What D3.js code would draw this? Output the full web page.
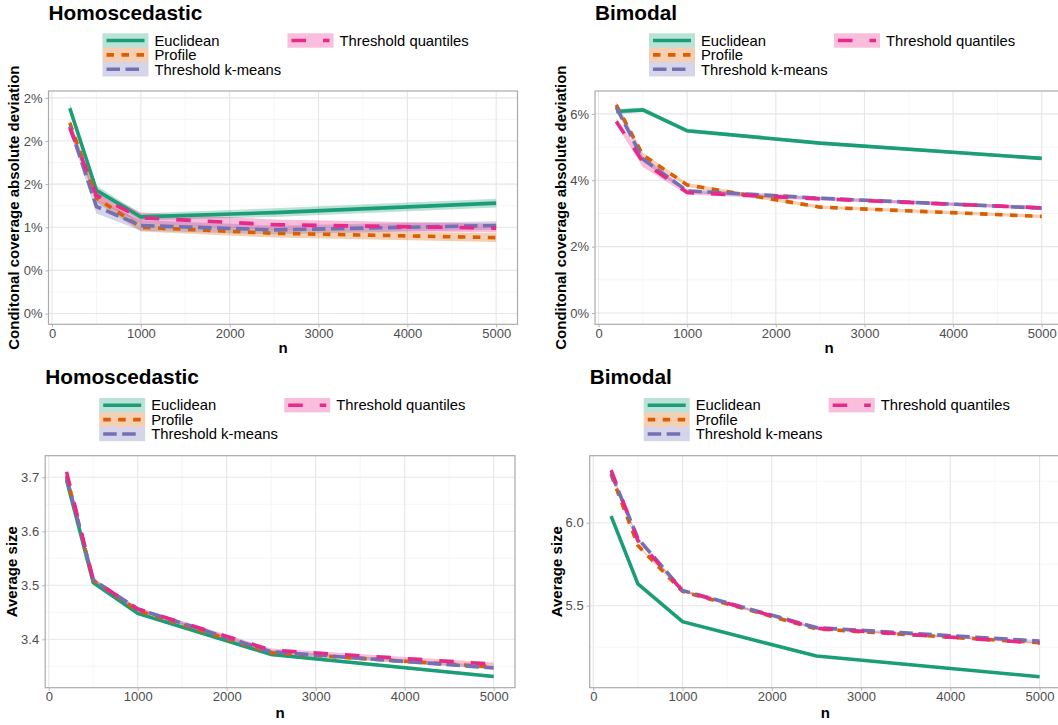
<!DOCTYPE html>
<html lang="en">
<head>
<meta charset="utf-8">
<title>Coverage and size by n</title>
<style>
  body { margin: 0; background: #fff; }
  svg text { font-family: "Liberation Sans", Arial, sans-serif; }
  .tick text { fill: #4d4d4d; font-size: 13px; }
  .tick line { stroke: #b3b3b3; }
</style>
<script src="https://cdnjs.cloudflare.com/ajax/libs/d3/7.8.5/d3.min.js"></script>
</head>
<body>
<script>
// sample sizes and methods
var nValues = [200, 500, 1000, 2500, 5000];
var methodNames = ["Euclidean", "Profile", "Threshold k-means", "Threshold quantiles"];
var xTicks = [0, 1000, 2000, 3000, 4000, 5000];
var xMinorTicks = [500, 1500, 2500, 3500, 4500];

// conditional coverage absolute deviation, homoscedastic
var homoDevEuclidean = [0.0238, 0.0143, 0.0112, 0.0117, 0.0128];
var homoDevProfile   = [0.0221, 0.0134, 0.0100, 0.0093, 0.0088];
var homoDevKmeans    = [0.0217, 0.0124, 0.0102, 0.0097, 0.0102];
var homoDevQuantiles = [0.0215, 0.0137, 0.0111, 0.0103, 0.0099];
var homoDevEuclideanSe = [0.0006, 0.0005, 0.0004, 0.0005, 0.0005];
var homoDevProfileSe   = [0.0005, 0.0005, 0.0005, 0.0005, 0.0005];
var homoDevKmeansSe    = [0.0006, 0.0008, 0.0006, 0.0005, 0.0005];
var homoDevQuantilesSe = [0.0005, 0.0006, 0.0006, 0.0006, 0.0005];
var homoDevTicks = [0, 0.005, 0.01, 0.015, 0.02, 0.025];
var homoDevTickLabels = ["0%", "0%", "1%", "2%", "2%", "2%"];

// conditional coverage absolute deviation, bimodal
var bimoDevEuclidean = [0.0607, 0.0612, 0.0549, 0.0512, 0.0466];
var bimoDevProfile   = [0.0627, 0.0476, 0.0386, 0.0319, 0.0291];
var bimoDevKmeans    = [0.0620, 0.0464, 0.0368, 0.0346, 0.0316];
var bimoDevQuantiles = [0.0577, 0.0456, 0.0363, 0.0344, 0.0317];
var bimoDevEuclideanSe = [0.0008, 0.0007, 0.0006, 0.0005, 0.0005];
var bimoDevProfileSe   = [0.0009, 0.0008, 0.0006, 0.0005, 0.0005];
var bimoDevKmeansSe    = [0.0009, 0.0008, 0.0006, 0.0005, 0.0005];
var bimoDevQuantilesSe = [0.0010, 0.0016, 0.0006, 0.0005, 0.0005];
var bimoDevTicks = [0, 0.02, 0.04, 0.06];
var bimoDevTickLabels = ["0%", "2%", "4%", "6%"];

// average size, homoscedastic
var homoSizeEuclidean = [3.695, 3.505, 3.448, 3.372, 3.331];
var homoSizeProfile   = [3.703, 3.509, 3.453, 3.375, 3.349];
var homoSizeKmeans    = [3.700, 3.510, 3.456, 3.377, 3.347];
var homoSizeQuantiles = [3.710, 3.510, 3.456, 3.380, 3.354];
var homoSizeEuclideanSe = [0.004, 0.003, 0.003, 0.003, 0.003];
var homoSizeProfileSe   = [0.004, 0.003, 0.003, 0.003, 0.003];
var homoSizeKmeansSe    = [0.004, 0.003, 0.003, 0.003, 0.003];
var homoSizeQuantilesSe = [0.004, 0.003, 0.003, 0.003, 0.003];
var homoSizeTicks = [3.4, 3.5, 3.6, 3.7];
var homoSizeTickLabels = ["3.4", "3.5", "3.6", "3.7"];

// average size, bimodal
var bimoSizeEuclidean = [6.040, 5.631, 5.404, 5.197, 5.072];
var bimoSizeProfile   = [6.290, 5.862, 5.586, 5.360, 5.277];
var bimoSizeKmeans    = [6.298, 5.906, 5.592, 5.368, 5.287];
var bimoSizeQuantiles = [6.317, 5.893, 5.590, 5.364, 5.274];
var bimoSizeEuclideanSe = [0.008, 0.007, 0.006, 0.005, 0.005];
var bimoSizeProfileSe   = [0.008, 0.007, 0.006, 0.005, 0.005];
var bimoSizeKmeansSe    = [0.008, 0.007, 0.006, 0.005, 0.005];
var bimoSizeQuantilesSe = [0.008, 0.007, 0.006, 0.005, 0.005];
var bimoSizeTicks = [5.5, 6.0];
var bimoSizeTickLabels = ["5.5", "6.0"];

// styling
var colors = ["#1b9e77", "#d95f02", "#7570b3", "#e7298a"];
var dashes = [null, "7.5,7.5", "13.5,5.5", "14.5,17"];
var lineWidth = 3.6;

var panels = [
  { title: "Homoscedastic", yTitle: "Conditonal coverage absolute deviation",
    series: [homoDevEuclidean, homoDevProfile, homoDevKmeans, homoDevQuantiles],
    se: [homoDevEuclideanSe, homoDevProfileSe, homoDevKmeansSe, homoDevQuantilesSe],
    ticks: homoDevTicks, tickLabels: homoDevTickLabels,
    box: { left: 48.5, right: 517.5, top: 91, bottom: 324.3 },
    yDomain: [-0.00125, 0.0258], yTitleX: 19, titleY: 20, nY: 353 },
  { title: "Bimodal", yTitle: "Conditonal coverage absolute deviation",
    series: [bimoDevEuclidean, bimoDevProfile, bimoDevKmeans, bimoDevQuantiles],
    se: [bimoDevEuclideanSe, bimoDevProfileSe, bimoDevKmeansSe, bimoDevQuantilesSe],
    ticks: bimoDevTicks, tickLabels: bimoDevTickLabels,
    box: { left: 595, right: 1063, top: 91, bottom: 324.3 },
    yDomain: [-0.0034, 0.0669], yTitleX: 565.5, titleY: 20, nY: 353 },
  { title: "Homoscedastic", yTitle: "Average size",
    series: [homoSizeEuclidean, homoSizeProfile, homoSizeKmeans, homoSizeQuantiles],
    se: [homoSizeEuclideanSe, homoSizeProfileSe, homoSizeKmeansSe, homoSizeQuantilesSe],
    ticks: homoSizeTicks, tickLabels: homoSizeTickLabels,
    box: { left: 45.2, right: 515, top: 455.7, bottom: 687.7 },
    yDomain: [3.3104, 3.74], yTitleX: 17, titleY: 384, nY: 718 },
  { title: "Bimodal", yTitle: "Average size",
    series: [bimoSizeEuclidean, bimoSizeProfile, bimoSizeKmeans, bimoSizeQuantiles],
    se: [bimoSizeEuclideanSe, bimoSizeProfileSe, bimoSizeKmeansSe, bimoSizeQuantilesSe],
    ticks: bimoSizeTicks, tickLabels: bimoSizeTickLabels,
    box: { left: 589.7, right: 1061, top: 455.7, bottom: 687.7 },
    yDomain: [5.006, 6.4036], yTitleX: 561.5, titleY: 384, nY: 718 }
];

var svg = d3.select("body").append("svg")
  .attr("width", 1058)
  .attr("height", 725);

svg.append("rect").attr("width", 1058).attr("height", 725).attr("fill", "#fff");

panels.forEach(function(p, pi) {
  var b = p.box;
  var x = d3.scaleLinear().domain([-40, 5240]).range([b.left, b.right]);
  var y = d3.scaleLinear().domain(p.yDomain).range([b.bottom, b.top]);
  var g = svg.append("g");

  // minor y ticks halfway between majors
  var step = p.ticks[1] - p.ticks[0];
  var yMinor = [];
  for (var v = p.ticks[0] - step / 2; v <= p.yDomain[1]; v += step) {
    if (v >= p.yDomain[0]) yMinor.push(v);
  }

  g.selectAll(".xminor").data(xMinorTicks).enter().append("line")
    .attr("x1", function(d) { return x(d); }).attr("x2", function(d) { return x(d); })
    .attr("y1", b.top).attr("y2", b.bottom)
    .attr("stroke", "#f2f2f2").attr("stroke-width", 0.7);
  g.selectAll(".yminor").data(yMinor).enter().append("line")
    .attr("x1", b.left).attr("x2", b.right)
    .attr("y1", function(d) { return y(d); }).attr("y2", function(d) { return y(d); })
    .attr("stroke", "#f2f2f2").attr("stroke-width", 0.7);
  g.selectAll(".xmajor").data(xTicks).enter().append("line")
    .attr("x1", function(d) { return x(d); }).attr("x2", function(d) { return x(d); })
    .attr("y1", b.top).attr("y2", b.bottom)
    .attr("stroke", "#e6e6e6").attr("stroke-width", 1.1);
  g.selectAll(".ymajor").data(p.ticks).enter().append("line")
    .attr("x1", b.left).attr("x2", b.right)
    .attr("y1", function(d) { return y(d); }).attr("y2", function(d) { return y(d); })
    .attr("stroke", "#e6e6e6").attr("stroke-width", 1.1);

  var clipId = "clip" + pi;
  svg.append("clipPath").attr("id", clipId).append("rect")
    .attr("x", b.left).attr("y", b.top)
    .attr("width", b.right - b.left).attr("height", b.bottom - b.top);
  var plot = g.append("g").attr("clip-path", "url(#" + clipId + ")");

  var area = d3.area()
    .x(function(d) { return x(d.n); })
    .y0(function(d) { return y(d.v - d.se); })
    .y1(function(d) { return y(d.v + d.se); });
  var line = d3.line()
    .x(function(d) { return x(d.n); })
    .y(function(d) { return y(d.v); });

  var rows = p.series.map(function(s, k) {
    return nValues.map(function(n, i) { return { n: n, v: s[i], se: p.se[k][i] }; });
  });

  // ribbons first, then lines
  rows.forEach(function(r, k) {
    plot.append("path").attr("d", area(r))
      .attr("fill", colors[k]).attr("fill-opacity", 0.3);
  });
  rows.forEach(function(r, k) {
    plot.append("path").attr("d", line(r))
      .attr("fill", "none")
      .attr("stroke", colors[k])
      .attr("stroke-width", lineWidth)
      .attr("stroke-dasharray", dashes[k]);
  });

  g.append("rect")
    .attr("x", b.left).attr("y", b.top)
    .attr("width", b.right - b.left).attr("height", b.bottom - b.top)
    .attr("fill", "none").attr("stroke", "#ababab").attr("stroke-width", 1.2);

  // axes
  var xAxis = g.append("g")
    .attr("transform", "translate(0," + b.bottom + ")")
    .call(d3.axisBottom(x).tickValues(xTicks).tickFormat(d3.format("d"))
      .tickSize(3).tickPadding(1.5));
  xAxis.select(".domain").remove();

  var yAxis = g.append("g")
    .attr("transform", "translate(" + b.left + ",0)")
    .call(d3.axisLeft(y).tickValues(p.ticks)
      .tickFormat(function(d, i) { return p.tickLabels[i]; })
      .tickSize(3).tickPadding(3));
  yAxis.select(".domain").remove();

  g.selectAll(".tick text").style("font-size", "13px").attr("fill", "#4d4d4d");

  // titles
  g.append("text")
    .attr("x", b.left).attr("y", p.titleY)
    .attr("font-size", "20.8px").attr("font-weight", "bold")
    .text(p.title);

  g.append("text")
    .attr("x", (b.left + b.right) / 2)
    .attr("y", p.nY)
    .attr("text-anchor", "middle")
    .attr("font-size", "15px").attr("font-weight", "bold")
    .text("n");

  g.append("text")
    .attr("transform", "translate(" + p.yTitleX + "," + ((b.top + b.bottom) / 2) + ") rotate(-90)")
    .attr("text-anchor", "middle")
    .attr("font-size", "15px").attr("font-weight", "bold")
    .text(p.yTitle);

  // legend: three rows in first column, remaining in second
  var keyW = 46, keyH = 14.4;
  var lx = b.left + 54;
  var ly = b.top - 50.5 - keyH / 2;
  var legend = g.append("g").attr("transform", "translate(" + lx + "," + ly + ")");
  methodNames.forEach(function(name, k) {
    var col = Math.floor(k / 3), row = k % 3;
    var item = legend.append("g")
      .attr("transform", "translate(" + (col * 185) + "," + (row * keyH) + ")");
    item.append("rect")
      .attr("width", keyW).attr("height", keyH)
      .attr("fill", colors[k]).attr("fill-opacity", 0.3);
    item.append("line")
      .attr("x1", 4).attr("x2", keyW - 4)
      .attr("y1", keyH / 2).attr("y2", keyH / 2)
      .attr("stroke", colors[k]).attr("stroke-width", lineWidth)
      .attr("stroke-dasharray", dashes[k]);
    item.append("text")
      .attr("x", keyW + 6).attr("y", keyH / 2 + 5.2)
      .attr("font-size", "14.8px").attr("fill", "#000")
      .text(name);
  });
});
</script>
</body>
</html>
